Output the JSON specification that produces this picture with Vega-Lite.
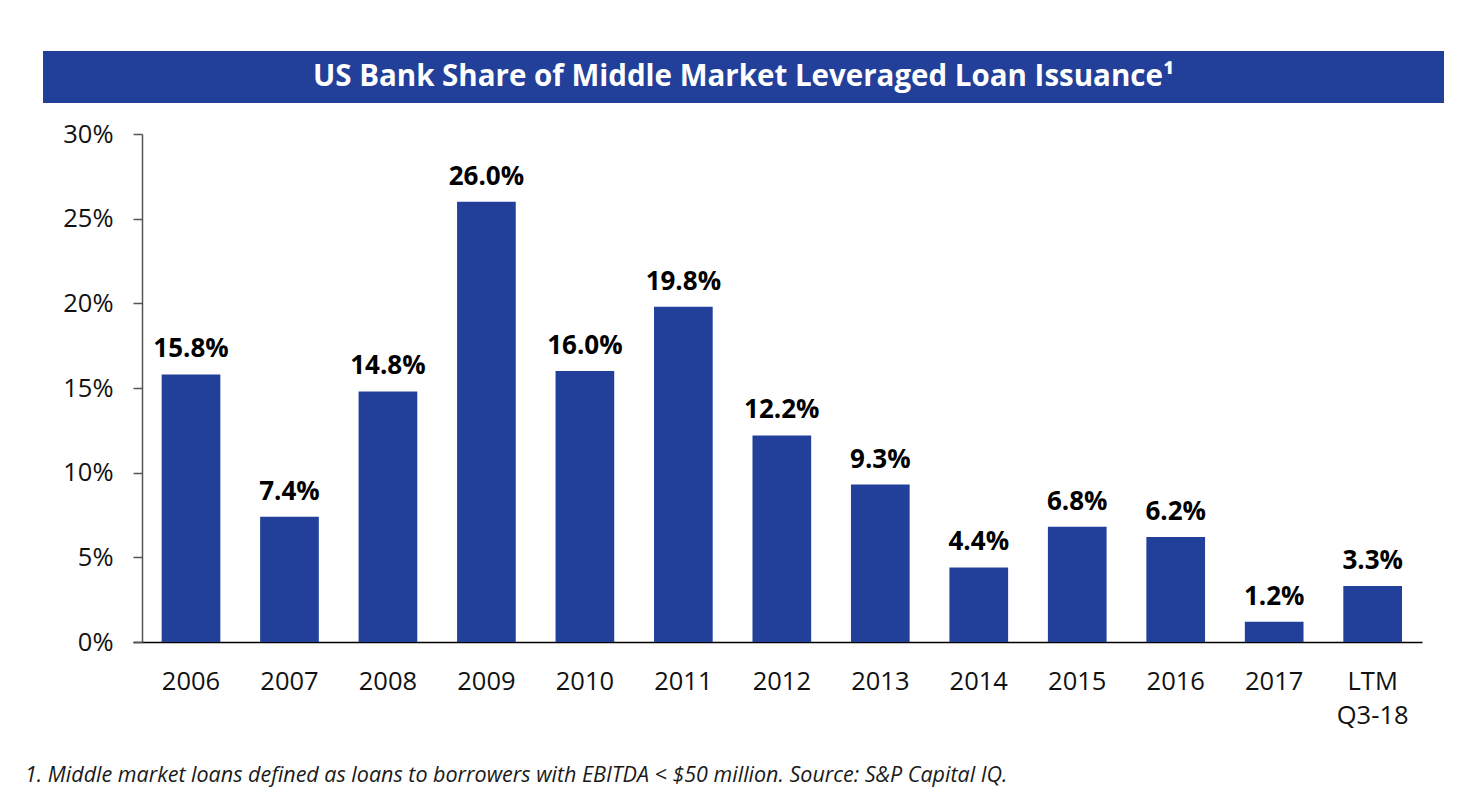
{
  "$schema": "https://vega.github.io/schema/vega-lite/v6.json",
  "background": "white",
  "padding": {"left": 25, "top": 51, "right": 30, "bottom": 20},
  "config": {"font": "Open Sans", "view": {"stroke": null}},
  "title": {
    "text": "1. Middle market loans defined as loans to borrowers with EBITDA < $50 million. Source: S&P Capital IQ.",
    "orient": "bottom", "anchor": "start", "fontStyle": "italic", "fontWeight": "normal",
    "fontSize": 21.5, "color": "#1a1a1a", "offset": 36, "dx": -18
  },
  "bounds": "flush",
  "spacing": 31,
  "vconcat": [
    {
      "data": {"values": [{"t": "US Bank Share of Middle Market Leveraged Loan Issuance¹"}]},
      "width": 1401, "height": 52,
      "view": {"fill": "#22409A", "stroke": null},
      "mark": {"type": "text", "color": "white", "fontWeight": "bold", "fontSize": 29.5, "baseline": "middle", "align": "center"},
      "encoding": {"text": {"field": "t"}}
    },
    {
      "data": {"values": [
        {"period": "2006", "share": 0.158},
        {"period": "2007", "share": 0.074},
        {"period": "2008", "share": 0.148},
        {"period": "2009", "share": 0.260},
        {"period": "2010", "share": 0.160},
        {"period": "2011", "share": 0.198},
        {"period": "2012", "share": 0.122},
        {"period": "2013", "share": 0.093},
        {"period": "2014", "share": 0.044},
        {"period": "2015", "share": 0.068},
        {"period": "2016", "share": 0.062},
        {"period": "2017", "share": 0.012},
        {"period": "LTM Q3-18", "share": 0.033}
      ]},
      "width": 1401, "height": 508,
      "encoding": {
        "x": {
          "field": "period", "type": "nominal", "sort": null, "title": null,
          "scale": {"range": [90, 1379], "paddingInner": 0.404, "paddingOuter": 0.247, "align": 0.589},
          "axis": {
            "labelAngle": 0, "ticks": false, "domainColor": "#000", "domainWidth": 1.5,
            "labelFontSize": 25.5, "labelColor": "#111", "labelPadding": 27, "labelLineHeight": 34,
            "labelExpr": "datum.label == 'LTM Q3-18' ? ['LTM', 'Q3-18'] : datum.label"
          }
        },
        "y": {
          "field": "share", "type": "quantitative", "title": null,
          "scale": {"domain": [0, 0.3], "nice": false},
          "axis": {
            "values": [0, 0.05, 0.1, 0.15, 0.2, 0.25, 0.3], "format": ".0%", "grid": false, "offset": -99,
            "tickSize": 9, "tickColor": "#555", "domainColor": "#555", "domainWidth": 1.5, "tickWidth": 1.5,
            "labelFontSize": 25.5, "labelColor": "#111", "labelPadding": 20
          }
        }
      },
      "layer": [
        {"mark": {"type": "bar", "color": "#22409A"}},
        {
          "mark": {"type": "text", "fontWeight": "bold", "fontSize": 26, "color": "#000", "baseline": "alphabetic", "dy": -17},
          "encoding": {"text": {"field": "share", "format": ".1%"}}
        }
      ]
    }
  ]
}
